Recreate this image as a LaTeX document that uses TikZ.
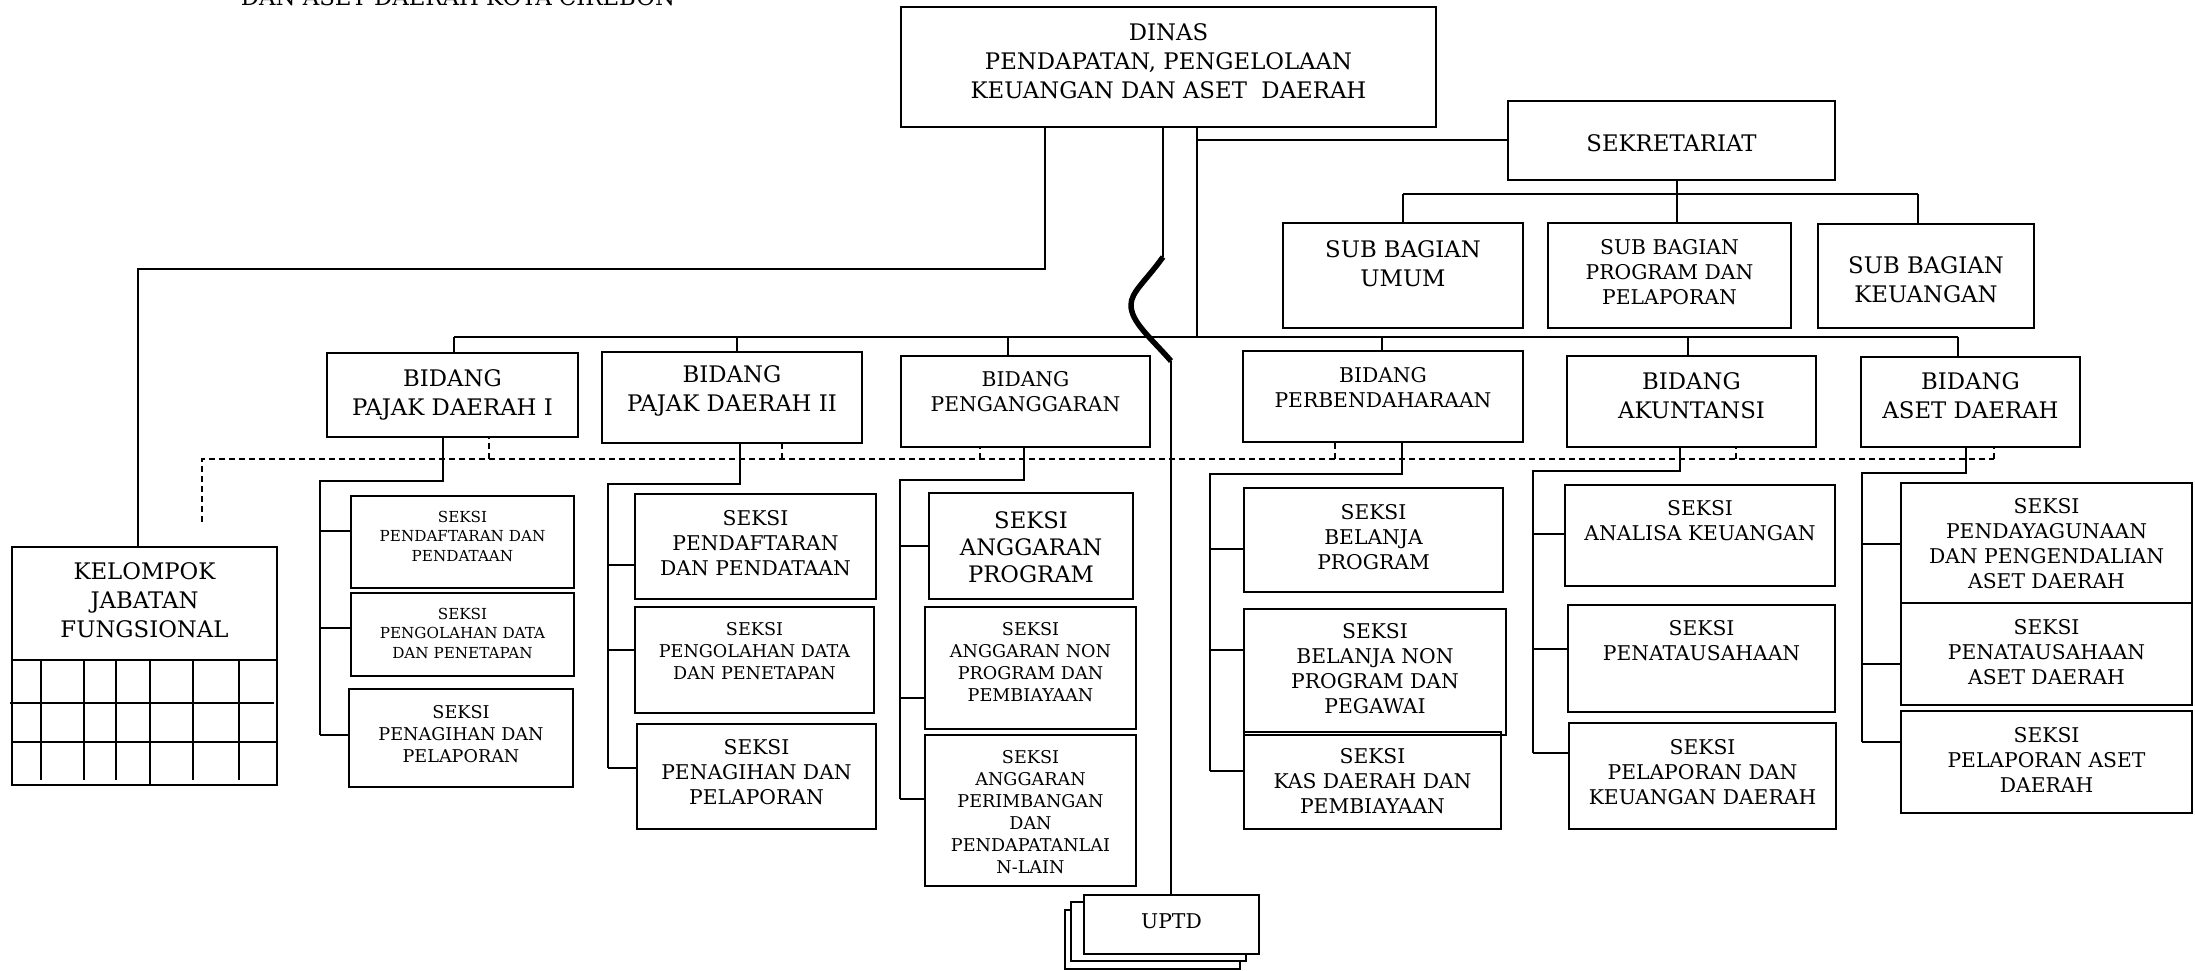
\documentclass[tikz,border=0pt]{standalone}
\usepackage{fontspec}
\setmainfont{DejaVu Serif}
\newcommand\Bx[5]{\node[bx, minimum width=#4-#2, minimum height=#5-#3] (#1) at (#2,#3) {};}
\newcommand\BT[8]{\Bx{#1}{#2}{#3}{#4}{#5}\node[#7] (#1t) at ({(#2+#4)/2},#6) {#8};}
\begin{document}
\begin{tikzpicture}[x=1pt,y=-1pt,
  bx/.style={draw, line width=2.2pt, inner sep=0pt, outer sep=0pt, anchor=north west},
  ln/.style={line width=2pt},
  dsh/.style={line width=1.8pt, dash pattern=on 6pt off 4pt},
  txL/.style={align=center, inner sep=0pt, font=\fontsize{22.8}{29}\selectfont},
  txLb/.style={align=center, inner sep=0pt, font=\fontsize{22.7}{27}\selectfont},
  txM/.style={align=center, inner sep=0pt, font=\fontsize{20.3}{25}\selectfont},
  txS/.style={align=center, inner sep=0pt, font=\fontsize{17.6}{22}\selectfont},
  txXS/.style={align=center, inner sep=0pt, font=\fontsize{15.2}{19.5}\selectfont}]
\useasboundingbox (0,0) rectangle (2195,971);
\clip (0,0) rectangle (2195,971);

\node[txL, anchor=base] (title) at (458,6) {DAN ASET DAERAH KOTA CIREBON};

% top level
\BT{dinas}{901}{7}{1436}{127}{61}{txL}{DINAS\\PENDAPATAN, PENGELOLAAN\\KEUANGAN DAN ASET\ \ DAERAH}
\BT{sek}{1508}{101}{1835}{180}{143}{txL}{SEKRETARIAT}
\BT{sbu}{1283}{223}{1523}{328}{264}{txL}{SUB BAGIAN\\UMUM}
\BT{sbp}{1548}{223}{1791}{328}{272}{txM}{SUB BAGIAN\\PROGRAM DAN\\PELAPORAN}
\BT{sbk}{1818}{224}{2034}{328}{280}{txL}{SUB BAGIAN\\KEUANGAN}

% bidang
\BT{pj1}{327}{353}{578}{437}{395}{txL}{BIDANG\\PAJAK DAERAH I}
\BT{pj2}{602}{352}{862}{443}{391}{txL}{BIDANG\\PAJAK DAERAH II}
\BT{pg}{901}{356}{1150}{447}{392}{txM}{BIDANG\\PENGANGGARAN}
\BT{pb}{1243}{351}{1523}{442}{388}{txM}{BIDANG\\PERBENDAHARAAN}
\BT{ak}{1567}{356}{1816}{447}{396}{txL}{BIDANG\\AKUNTANSI}
\BT{as}{1861}{357}{2080}{447}{396}{txL}{BIDANG\\ASET DAERAH}

% seksi
\BT{pj1a}{351}{496}{574}{588}{536}{txXS}{SEKSI\\PENDAFTARAN DAN\\PENDATAAN}
\BT{pj1b}{351}{593}{574}{676}{633}{txXS}{SEKSI\\PENGOLAHAN DATA\\DAN PENETAPAN}
\BT{pj1c}{349}{689}{573}{787}{734}{txS}{SEKSI\\PENAGIHAN DAN\\PELAPORAN}
\BT{pj2a}{635}{494}{876}{599}{543}{txM}{SEKSI\\PENDAFTARAN\\DAN PENDATAAN}
\BT{pj2b}{635}{607}{874}{713}{651}{txS}{SEKSI\\PENGOLAHAN DATA\\DAN PENETAPAN}
\BT{pj2c}{637}{724}{876}{829}{772}{txM}{SEKSI\\PENAGIHAN DAN\\PELAPORAN}
\BT{pga}{929}{493}{1133}{599}{547}{txLb}{SEKSI\\ANGGARAN\\PROGRAM}
\BT{pgb}{925}{607}{1136}{729}{662}{txS}{SEKSI\\ANGGARAN NON\\PROGRAM DAN\\PEMBIAYAAN}
\BT{pgc}{925}{735}{1136}{886}{812}{txS}{SEKSI\\ANGGARAN\\PERIMBANGAN\\DAN\\PENDAPATANLAI\\N-LAIN}
\BT{pba}{1244}{488}{1503}{592}{537}{txM}{SEKSI\\BELANJA\\PROGRAM}
\BT{pbb}{1244}{609}{1506}{735}{669}{txM}{SEKSI\\BELANJA NON\\PROGRAM DAN\\PEGAWAI}
\BT{pbc}{1244}{732}{1501}{829}{781}{txM}{SEKSI\\KAS DAERAH DAN\\PEMBIAYAAN}
\BT{aka}{1565}{485}{1835}{586}{521}{txM}{SEKSI\\ANALISA KEUANGAN}
\BT{akb}{1568}{605}{1835}{712}{641}{txM}{SEKSI\\PENATAUSAHAAN}
\BT{akc}{1569}{723}{1836}{829}{772}{txM}{SEKSI\\PELAPORAN DAN\\KEUANGAN DAERAH}
\BT{asa}{1901}{483}{2192}{603}{544}{txM}{SEKSI\\PENDAYAGUNAAN\\DAN PENGENDALIAN\\ASET DAERAH}
\BT{asb}{1901}{603}{2192}{705}{652}{txM}{SEKSI\\PENATAUSAHAAN\\ASET DAERAH}
\BT{asc}{1901}{711}{2192}{813}{760}{txM}{SEKSI\\PELAPORAN ASET\\DAERAH}

% kelompok jabatan fungsional
\BT{kjf}{12}{547}{277}{785}{600}{txL}{KELOMPOK\\JABATAN\\FUNGSIONAL}
\draw[ln] (12,660) -- (277,660);
\draw[ln] (10,703) -- (274,703);
\draw[ln] (12,742) -- (277,742);
\foreach \x in {41,84,116,193,239} \draw[ln] (\x,660) -- (\x,780);
\draw[ln] (150,660) -- (150,785);

% UPTD
\node[bx, fill=white, minimum width=175, minimum height=59] (uptd3) at (1065,910) {};
\node[bx, fill=white, minimum width=175, minimum height=59] (uptd2) at (1071,902) {};
\node[bx, fill=white, minimum width=175, minimum height=59] (uptd) at (1084,895) {};
\node[txM] (uptdt) at (1171.5,921) {UPTD};

% connectors from DINAS
\coordinate (dL) at (1045,269);
\coordinate (kL) at (138,269);
\draw[ln] (dinas.south -| dL) -- (dL) -- (kL) -- (kL |- kjf.north);
\coordinate (cT) at (1163,257);
\coordinate (cB) at (1171,361);
\draw[ln] (dinas.south -| cT) -- (cT);
\draw[line width=5.5pt] (cT) .. controls (1145,282) and (1131,292) .. (1131,305)
  .. controls (1131,322) and (1150,337) .. (cB);
\draw[ln] (cB) -- (cB |- uptd.north);
\coordinate (dR) at (1197,140);
\coordinate (busL) at (454,337);
\coordinate (busR) at (1958,337);
\draw[ln] (dinas.south -| dR) -- (dR |- busL);
\draw[ln] (dR) -- (dR -| sek.west);
\draw[ln] (busL) -- (busR);
\coordinate (b2) at (737,337);
\coordinate (b3) at (1008,337);
\coordinate (b4) at (1382,337);
\coordinate (b5) at (1688,337);
\draw[ln] (busL) -- (busL |- pj1.north);
\draw[ln] (b2) -- (b2 |- pj2.north);
\draw[ln] (b3) -- (b3 |- pg.north);
\draw[ln] (b4) -- (b4 |- pb.north);
\draw[ln] (b5) -- (b5 |- ak.north);
\draw[ln] (busR) -- (busR |- as.north);

% sekretariat
\coordinate (sL) at (1403,194);
\coordinate (sM) at (1677,194);
\coordinate (sR) at (1918,194);
\draw[ln] (sek.south -| sM) -- (sM |- sbp.north);
\draw[ln] (sL) -- (sR);
\draw[ln] (sL) -- (sL |- sbu.north);
\draw[ln] (sR) -- (sR |- sbk.north);

% groups
\coordinate (g1t) at (443,481); \coordinate (g1l) at (320,481);
\coordinate (s1a) at (320,531); \coordinate (s1b) at (320,628); \coordinate (s1c) at (320,735);
\draw[ln] (pj1.south -| g1t) -- (g1t) -- (g1l) -- (s1c);
\coordinate (g2t) at (740,484); \coordinate (g2l) at (608,484);
\coordinate (s2a) at (608,565); \coordinate (s2b) at (608,650); \coordinate (s2c) at (608,768);
\draw[ln] (pj2.south -| g2t) -- (g2t) -- (g2l) -- (s2c);
\coordinate (g3t) at (1024,480); \coordinate (g3l) at (900,480);
\coordinate (s3a) at (900,546); \coordinate (s3b) at (900,698); \coordinate (s3c) at (900,799);
\draw[ln] (pg.south -| g3t) -- (g3t) -- (g3l) -- (s3c);
\coordinate (g4t) at (1402,474); \coordinate (g4l) at (1210,474);
\coordinate (s4a) at (1210,549); \coordinate (s4b) at (1210,650); \coordinate (s4c) at (1210,771);
\draw[ln] (pb.south -| g4t) -- (g4t) -- (g4l) -- (s4c);
\coordinate (g5t) at (1680,471); \coordinate (g5l) at (1533,471);
\coordinate (s5a) at (1533,534); \coordinate (s5b) at (1533,649); \coordinate (s5c) at (1533,753);
\draw[ln] (ak.south -| g5t) -- (g5t) -- (g5l) -- (s5c);
\coordinate (g6t) at (1966,473); \coordinate (g6l) at (1862,473);
\coordinate (s6a) at (1862,544); \coordinate (s6b) at (1862,664); \coordinate (s6c) at (1862,742);
\draw[ln] (as.south -| g6t) -- (g6t) -- (g6l) -- (s6c);
\foreach \s/\b in {s1a/pj1a,s1b/pj1b,s1c/pj1c,s2a/pj2a,s2b/pj2b,s2c/pj2c,
  s3a/pga,s3b/pgb,s3c/pgc,s4a/pba,s4b/pbb,s4c/pbc,s5a/aka,s5b/akb,s5c/akc,
  s6a/asa,s6b/asb,s6c/asc}
  \draw[ln] (\s) -- (\s -| \b.west);

% dashed coordination line
\coordinate (dl) at (202,459);
\coordinate (dlb) at (202,522);
\coordinate (dr) at (1994,459);
\draw[dsh] (dlb) -- (dl) -- (dr);
\coordinate (t1) at (489,459);
\coordinate (t2) at (782,459);
\coordinate (t3) at (980,459);
\coordinate (t4) at (1335,459);
\coordinate (t5) at (1736,459);
\draw[dsh] (t1) -- (t1 |- pj1.south);
\draw[dsh] (t2) -- (t2 |- pj2.south);
\draw[dsh] (t3) -- (t3 |- pg.south);
\draw[dsh] (t4) -- (t4 |- pb.south);
\draw[dsh] (t5) -- (t5 |- ak.south);
\draw[dsh] (dr) -- (dr |- as.south);
\end{tikzpicture}
\end{document}
